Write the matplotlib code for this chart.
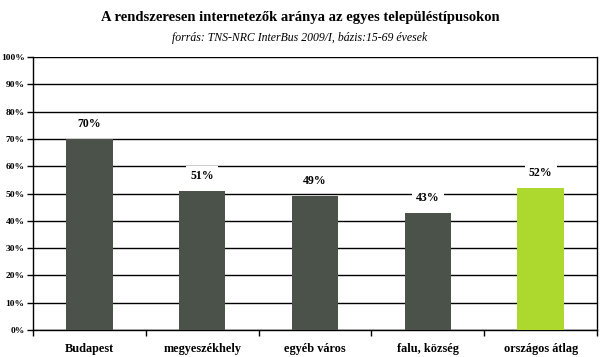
import matplotlib
matplotlib.use("Agg")
import matplotlib.pyplot as plt
from matplotlib.ticker import MultipleLocator, FuncFormatter

categories = ["Budapest", "megyeszékhely", "egyéb város", "falu, község", "országos átlag"]
values = [70, 51, 49, 43, 52]
value_labels = ["70%", "51%", "49%", "43%", "52%"]
colors = ["#4a524a", "#4a524a", "#4a524a", "#4a524a", "#add82d"]

plt.rcParams['font.family'] = ['Liberation Serif', 'DejaVu Serif']

fig = plt.figure(figsize=(6.0, 3.57), dpi=100)
ax = fig.add_axes([33/600, 1-330/357, (597-33)/600, (330-57)/357])

x = list(range(len(categories)))
ax.bar(x, values, width=0.41, color=colors, zorder=3)
ax.set_xlim(-0.5, len(categories) - 0.5)
ax.set_ylim(0, 100)
ax.yaxis.set_major_locator(MultipleLocator(10))
ax.yaxis.set_major_formatter(FuncFormatter(lambda v, p: f"{int(v)}%"))
ax.grid(axis='y', color='black', linewidth=1.0, zorder=1)
ax.set_axisbelow(True)

ax.set_xticks([i + 0.5 for i in range(-1, len(categories))])
ax.set_xticklabels([])
ax.tick_params(axis='x', which='major', length=4, width=1, direction='out')
ax.tick_params(axis='y', length=4, width=1, labelsize=6.8, pad=2)
for lbl in ax.get_yticklabels():
    lbl.set_fontweight('bold')

for i, c in enumerate(categories):
    ax.annotate(c, xy=(i, 0), xycoords=('data', 'axes fraction'),
                xytext=(0, -13.5), textcoords='offset points',
                ha='center', va='center', fontsize=8.8, fontweight='bold',
                annotation_clip=False)

for s in ['top']:
    ax.spines[s].set_visible(False)
for s in ['left', 'bottom', 'right']:
    ax.spines[s].set_linewidth(1.0)
    ax.spines[s].set_color('black')

for i, (v, t) in enumerate(zip(values, value_labels)):
    ax.text(i, v + 5.5, t, ha='center', va='center', fontsize=8.5, fontweight='bold',
            bbox=dict(boxstyle='square,pad=0.35', fc='white', ec='none'), zorder=4)

fig.text(0.5, 1-18/357, "A rendszeresen internetezők aránya az egyes településtípusokon",
         ha='center', va='center', fontsize=10.5, fontweight='bold')
fig.text(0.5, 1-38/357, "forrás: TNS-NRC InterBus 2009/I, bázis:15-69 évesek",
         ha='center', va='center', fontsize=8.5, style='italic')

fig.savefig("out.png", dpi=100)
